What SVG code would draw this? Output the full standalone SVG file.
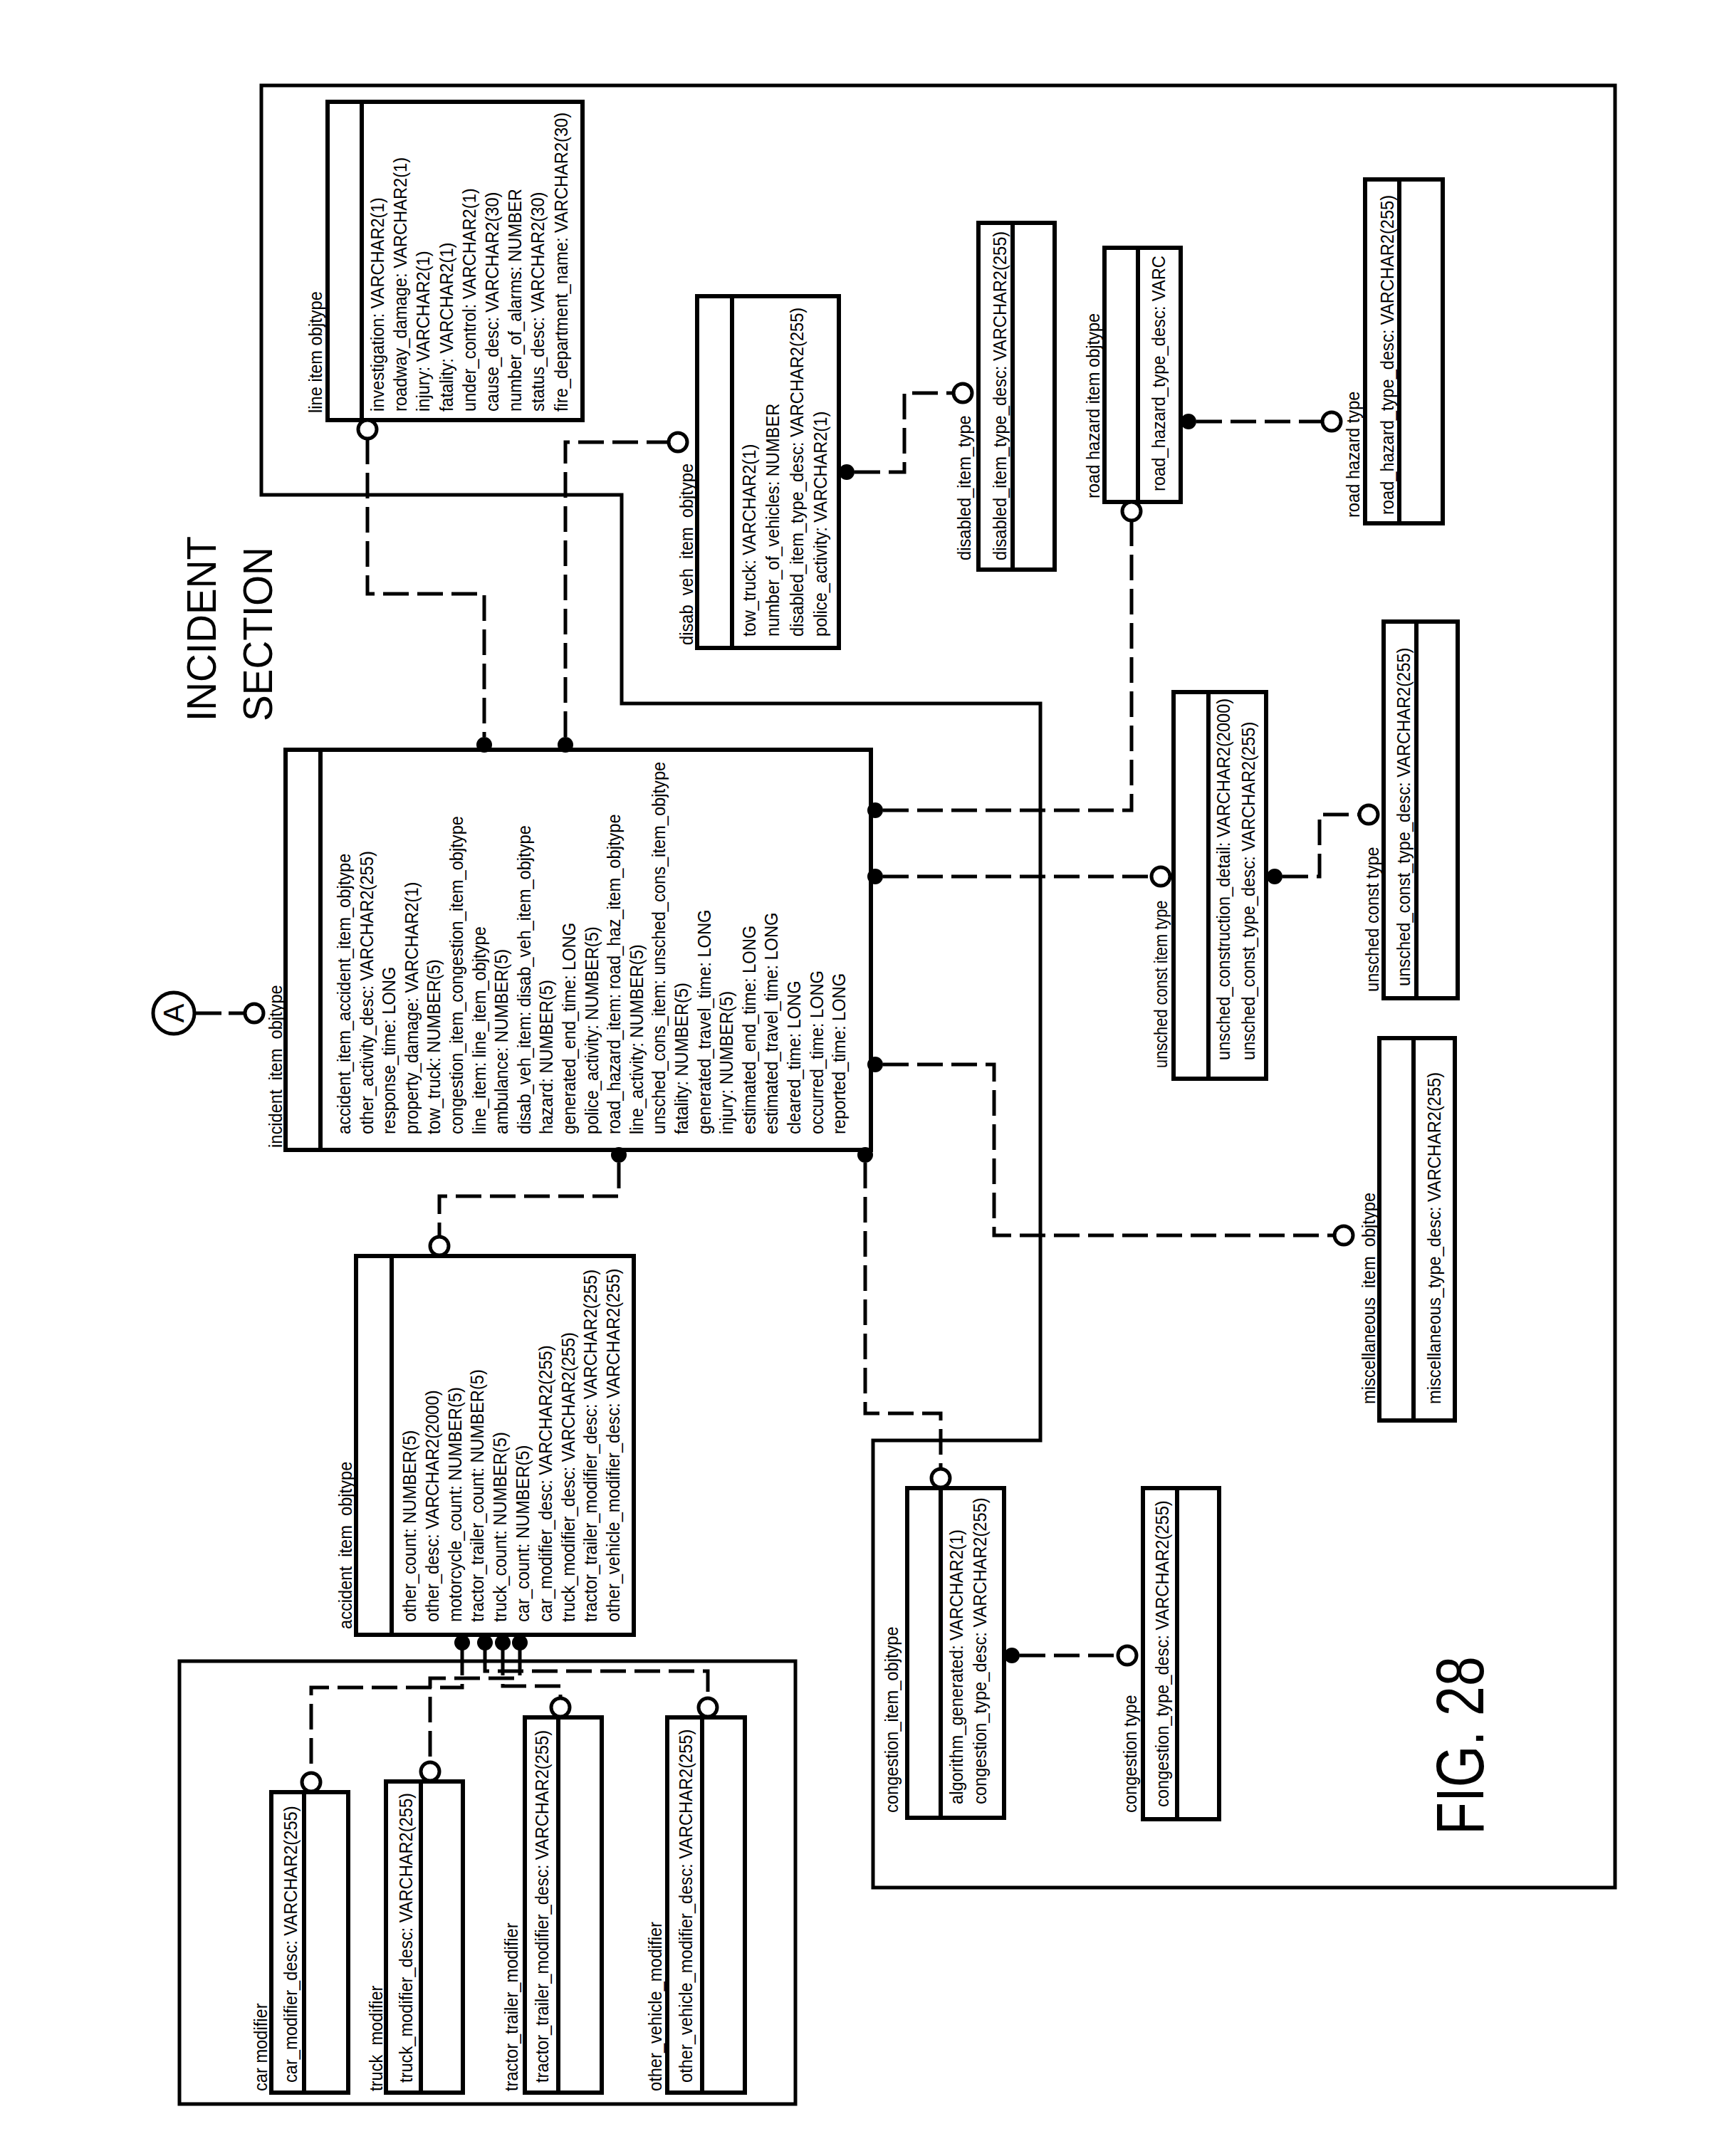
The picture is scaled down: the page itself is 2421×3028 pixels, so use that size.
<svg xmlns="http://www.w3.org/2000/svg" width="2421" height="3028" viewBox="0 0 2421 3028">
<style>
.bx{fill:#fff;stroke:#000;stroke-width:6}
.dv{stroke:#000;stroke-width:6}
.fr{fill:none;stroke:#000;stroke-width:5}
.cn{fill:none;stroke:#000;stroke-width:5;stroke-dasharray:36 12}
.oc{fill:#fff;stroke:#000;stroke-width:5}
.fc{fill:#000}
.t{font-family:"Liberation Sans",Arial,sans-serif;font-size:26px;fill:#000}
.big{font-family:"Liberation Sans",Arial,sans-serif;font-size:58px;fill:#000}
.fig{font-family:"Liberation Sans",Arial,sans-serif;font-size:94px;fill:#000}
</style>
<rect width="2421" height="3028" fill="#fff"/>
<g id="frames">
<path class="fr" d="M367,120 H2268 V2651 H1226 V2023 H1461 V988 H873 V695 H367 Z"/>
<rect class="fr" x="252" y="2333" width="865" height="622"/>
</g>
<g id="titles">
<g transform="translate(303,1013) rotate(-90) scale(0.95 1)"><text class="big">INCIDENT</text></g>
<g transform="translate(382,1013) rotate(-90) scale(0.95 1)"><text class="big">SECTION</text></g>
<g transform="translate(2083,2577) rotate(-90) scale(0.8 1)"><text class="fig">FIG. 28</text></g>
</g>
<g id="connectors">
<path class="cn" d="M273,1423 H344" style="stroke-dasharray:38 10"/>
<path class="cn" d="M516,616 V834 H680 V1035"/>
<path class="cn" d="M794,1035 V621 H939"/>
<path class="cn" d="M1200,663 H1270 V552 H1339"/>
<path class="cn" d="M1240,1138 H1589 V731"/>
<path class="cn" d="M1680,592 H1857"/>
<path class="cn" d="M1240,1231 H1617"/>
<path class="cn" d="M1801,1231 H1853 V1144 H1909"/>
<path class="cn" d="M1240,1495 H1396 V1735 H1874"/>
<path class="cn" d="M869,1633 V1680 H617 V1737"/>
<path class="cn" d="M1215,1633 V1985 H1321 V2063"/>
<path class="cn" d="M1432,2325 H1570"/>
<path class="cn" d="M649,2317 V2370 H437 V2489"/>
<path class="cn" d="M681,2317 V2347 H994 V2384"/>
<path class="cn" d="M706,2317 V2368 H787 V2384"/>
<path class="cn" d="M730,2317 V2357 H604 V2474"/>
</g>
<g id="incident_item_objtype">
<rect class="bx" x="401" y="1053" width="822" height="562"/>
<line class="dv" x1="450" y1="1053" x2="450" y2="1615"/>
<g transform="translate(396,1612) rotate(-90) scale(0.91 1)"><text class="t">incident_item_objtype</text></g>
<g transform="translate(492,1593) rotate(-90) scale(0.91 1)">
<text class="t" y="0">accident_item_accident_item_objtype</text>
<text class="t" y="31.6">other_activity_desc: VARCHAR2(255)</text>
<text class="t" y="63.2">response_time: LONG</text>
<text class="t" y="94.8">property_damage: VARCHAR2(1)</text>
<text class="t" y="126.4">tow_truck: NUMBER(5)</text>
<text class="t" y="158">congestion_item_congestion_item_objtype</text>
<text class="t" y="189.6">line_item: line_item_objtype</text>
<text class="t" y="221.2">ambulance: NUMBER(5)</text>
<text class="t" y="252.8">disab_veh_item: disab_veh_item_objtype</text>
<text class="t" y="284.4">hazard: NUMBER(5)</text>
<text class="t" y="316">generated_end_time: LONG</text>
<text class="t" y="347.6">police_activity: NUMBER(5)</text>
<text class="t" y="379.2">road_hazard_item: road_haz_item_objtype</text>
<text class="t" y="410.8">line_activity: NUMBER(5)</text>
<text class="t" y="442.4">unsched_cons_item: unsched_cons_item_objtype</text>
<text class="t" y="474">fatality: NUMBER(5)</text>
<text class="t" y="505.6">generated_travel_time: LONG</text>
<text class="t" y="537.2">injury: NUMBER(5)</text>
<text class="t" y="568.8">estimated_end_time: LONG</text>
<text class="t" y="600.4">estimated_travel_time: LONG</text>
<text class="t" y="632">cleared_time: LONG</text>
<text class="t" y="663.6">occurred_time: LONG</text>
<text class="t" y="695.2">reported_time: LONG</text>
</g>
<circle class="oc" cx="244" cy="1423" r="29"/>
<g transform="translate(258,1423) rotate(-90)"><text class="t" style="font-size:40px" text-anchor="middle">A</text></g>
<circle class="oc" cx="357" cy="1423" r="13"/>
<circle class="fc" cx="680" cy="1046" r="11"/>
<circle class="fc" cx="794" cy="1046" r="11"/>
<circle class="fc" cx="1229" cy="1138" r="11"/>
<circle class="fc" cx="1229" cy="1231" r="11"/>
<circle class="fc" cx="1229" cy="1495" r="11"/>
<circle class="fc" cx="869" cy="1622" r="11"/>
<circle class="fc" cx="1215" cy="1622" r="11"/>
</g>
<g id="line_item_objtype">
<rect class="bx" x="460" y="143" width="358" height="447"/>
<line class="dv" x1="508" y1="143" x2="508" y2="590"/>
<g transform="translate(452,580) rotate(-90) scale(0.91 1)"><text class="t">line item objtype</text></g>
<g transform="translate(539,578) rotate(-90) scale(0.91 1)">
<text class="t" y="0">investigation: VARCHAR2(1)</text>
<text class="t" y="32.2">roadway_damage: VARCHAR2(1)</text>
<text class="t" y="64.4">injury: VARCHAR2(1)</text>
<text class="t" y="96.6">fatality: VARCHAR2(1)</text>
<text class="t" y="128.8">under_control: VARCHAR2(1)</text>
<text class="t" y="161">cause_desc: VARCHAR2(30)</text>
<text class="t" y="193.2">number_of_alarms: NUMBER</text>
<text class="t" y="225.4">status_desc: VARCHAR2(30)</text>
<text class="t" y="257.6">fire_department_name: VARCHAR2(30)</text>
</g>
<circle class="oc" cx="516" cy="603" r="13"/>
</g>
<g id="disab_veh_item_objtype">
<rect class="bx" x="979" y="416" width="199" height="494"/>
<line class="dv" x1="1028" y1="416" x2="1028" y2="910"/>
<g transform="translate(973,906) rotate(-90) scale(0.91 1)"><text class="t">disab_veh_item_objtype</text></g>
<g transform="translate(1061,894) rotate(-90) scale(0.91 1)">
<text class="t" y="0">tow_truck: VARCHAR2(1)</text>
<text class="t" y="33.5">number_of_vehicles: NUMBER</text>
<text class="t" y="67">disabled_item_type_desc: VARCHAR2(255)</text>
<text class="t" y="100.5">police_activity: VARCHAR2(1)</text>
</g>
<circle class="oc" cx="952" cy="621" r="13"/>
<circle class="fc" cx="1189" cy="663" r="11"/>
</g>
<g id="disabled_item_type">
<rect class="bx" x="1374" y="313" width="107" height="487"/>
<line class="dv" x1="1422" y1="313" x2="1422" y2="800"/>
<g transform="translate(1363,787) rotate(-90) scale(0.91 1)"><text class="t">disabled_item_type</text></g>
<g transform="translate(1413,787) rotate(-90) scale(0.91 1)"><text class="t">disabled_item_type_desc: VARCHAR2(255)</text></g>
<circle class="oc" cx="1352" cy="552" r="13"/>
</g>
<g id="road_hazard_item_objtype">
<rect class="bx" x="1551" y="348" width="107" height="357"/>
<line class="dv" x1="1598" y1="348" x2="1598" y2="705"/>
<g transform="translate(1544,700) rotate(-90) scale(0.91 1)"><text class="t">road hazard item objtype</text></g>
<g transform="translate(1636,690) rotate(-90) scale(0.91 1)"><text class="t">road_hazard_type_desc: VARC</text></g>
<circle class="oc" cx="1589" cy="718" r="13"/>
<circle class="fc" cx="1669" cy="592" r="11"/>
</g>
<g id="road_hazard_type">
<rect class="bx" x="1917" y="252" width="109" height="483"/>
<line class="dv" x1="1965" y1="252" x2="1965" y2="735"/>
<g transform="translate(1909,727) rotate(-90) scale(0.91 1)"><text class="t">road hazard type</text></g>
<g transform="translate(1957,723) rotate(-90) scale(0.91 1)"><text class="t">road_hazard_type_desc: VARCHAR2(255)</text></g>
<circle class="oc" cx="1870" cy="592" r="13"/>
</g>
<g id="unsched_const_item_type">
<rect class="bx" x="1648" y="972" width="130" height="543"/>
<line class="dv" x1="1697" y1="972" x2="1697" y2="1515"/>
<g transform="translate(1639,1500) rotate(-90) scale(0.84 1)"><text class="t">unsched const item type</text></g>
<g transform="translate(1727,1489) rotate(-90) scale(0.91 1)">
<text class="t" y="0">unsched_construction_detail: VARCHAR2(2000)</text>
<text class="t" y="35">unsched_const_type_desc: VARCHAR2(255)</text>
</g>
<circle class="oc" cx="1630" cy="1231" r="13"/>
<circle class="fc" cx="1790" cy="1231" r="11"/>
</g>
<g id="unsched_const_type">
<rect class="bx" x="1943" y="873" width="104" height="529"/>
<line class="dv" x1="1989" y1="873" x2="1989" y2="1402"/>
<g transform="translate(1936,1393) rotate(-90) scale(0.91 1)"><text class="t">unsched const type</text></g>
<g transform="translate(1980,1385) rotate(-90) scale(0.91 1)"><text class="t">unsched_const_type_desc: VARCHAR2(255)</text></g>
<circle class="oc" cx="1922" cy="1144" r="13"/>
</g>
<g id="miscellaneous_item_objtype">
<rect class="bx" x="1937" y="1458" width="106" height="537"/>
<line class="dv" x1="1985" y1="1458" x2="1985" y2="1995"/>
<g transform="translate(1931,1972) rotate(-90) scale(0.91 1)"><text class="t">miscellaneous_item_objtype</text></g>
<g transform="translate(2023,1972) rotate(-90) scale(0.91 1)"><text class="t">miscellaneous_type_desc: VARCHAR2(255)</text></g>
<circle class="oc" cx="1887" cy="1735" r="13"/>
</g>
<g id="congestion_item_objtype">
<rect class="bx" x="1274" y="2090" width="136" height="463"/>
<line class="dv" x1="1321" y1="2090" x2="1321" y2="2553"/>
<g transform="translate(1261,2546) rotate(-90) scale(0.91 1)"><text class="t">congestion_item_objtype</text></g>
<g transform="translate(1352,2534) rotate(-90) scale(0.91 1)">
<text class="t" y="0">algorithm_generated: VARCHAR2(1)</text>
<text class="t" y="33">congestion_type_desc: VARCHAR2(255)</text>
</g>
<circle class="oc" cx="1321" cy="2076" r="13"/>
<circle class="fc" cx="1421" cy="2325" r="11"/>
</g>
<g id="congestion_type">
<rect class="bx" x="1605" y="2090" width="107" height="465"/>
<line class="dv" x1="1653" y1="2090" x2="1653" y2="2555"/>
<g transform="translate(1596,2546) rotate(-90) scale(0.91 1)"><text class="t">congestion type</text></g>
<g transform="translate(1641,2538) rotate(-90) scale(0.91 1)"><text class="t">congestion_type_desc: VARCHAR2(255)</text></g>
<circle class="oc" cx="1583" cy="2325" r="13"/>
</g>
<g id="accident_item_objtype">
<rect class="bx" x="500" y="1764" width="390" height="532"/>
<line class="dv" x1="550" y1="1764" x2="550" y2="2296"/>
<g transform="translate(494,2288) rotate(-90) scale(0.91 1)"><text class="t">accident_item_objtype</text></g>
<g transform="translate(584,2278) rotate(-90) scale(0.91 1)">
<text class="t" y="0">other_count: NUMBER(5)</text>
<text class="t" y="31.8">other_desc: VARCHAR2(2000)</text>
<text class="t" y="63.6">motorcycle_count: NUMBER(5)</text>
<text class="t" y="95.4">tractor_trailer_count: NUMBER(5)</text>
<text class="t" y="127.2">truck_count: NUMBER(5)</text>
<text class="t" y="159">car_count: NUMBER(5)</text>
<text class="t" y="190.8">car_modifier_desc: VARCHAR2(255)</text>
<text class="t" y="222.6">truck_modifier_desc: VARCHAR2(255)</text>
<text class="t" y="254.4">tractor_trailer_modifier_desc: VARCHAR2(255)</text>
<text class="t" y="286.2">other_vehicle_modifier_desc: VARCHAR2(255)</text>
</g>
<circle class="oc" cx="617" cy="1750" r="13"/>
<circle class="fc" cx="649" cy="2307" r="11"/>
<circle class="fc" cx="681" cy="2307" r="11"/>
<circle class="fc" cx="706" cy="2307" r="11"/>
<circle class="fc" cx="730" cy="2307" r="11"/>
</g>
<g id="car_modifier">
<rect class="bx" x="381" y="2517" width="108" height="422"/>
<line class="dv" x1="427" y1="2517" x2="427" y2="2939"/>
<g transform="translate(375,2937) rotate(-90) scale(0.91 1)"><text class="t">car modifier</text></g>
<g transform="translate(417,2925) rotate(-90) scale(0.91 1)"><text class="t">car_modifier_desc: VARCHAR2(255)</text></g>
<circle class="oc" cx="437" cy="2503" r="13"/>
</g>
<g id="truck_modifier">
<rect class="bx" x="542" y="2502" width="108" height="437"/>
<line class="dv" x1="591" y1="2502" x2="591" y2="2939"/>
<g transform="translate(537,2937) rotate(-90) scale(0.91 1)"><text class="t">truck_modifier</text></g>
<g transform="translate(579,2925) rotate(-90) scale(0.91 1)"><text class="t">truck_modifier_desc: VARCHAR2(255)</text></g>
<circle class="oc" cx="604" cy="2488" r="13"/>
</g>
<g id="tractor_trailer_modifier">
<rect class="bx" x="737" y="2412" width="108" height="527"/>
<line class="dv" x1="784" y1="2412" x2="784" y2="2939"/>
<g transform="translate(727,2937) rotate(-90) scale(0.91 1)"><text class="t">tractor_trailer_modifier</text></g>
<g transform="translate(770,2925) rotate(-90) scale(0.91 1)"><text class="t">tractor_trailer_modifier_desc: VARCHAR2(255)</text></g>
<circle class="oc" cx="787" cy="2398" r="13"/>
</g>
<g id="other_vehicle_modifier">
<rect class="bx" x="937" y="2412" width="109" height="527"/>
<line class="dv" x1="986" y1="2412" x2="986" y2="2939"/>
<g transform="translate(929,2937) rotate(-90) scale(0.91 1)"><text class="t">other_vehicle_modifier</text></g>
<g transform="translate(972,2925) rotate(-90) scale(0.91 1)"><text class="t">other_vehicle_modifier_desc: VARCHAR2(255)</text></g>
<circle class="oc" cx="994" cy="2398" r="13"/>
</g>
</svg>
